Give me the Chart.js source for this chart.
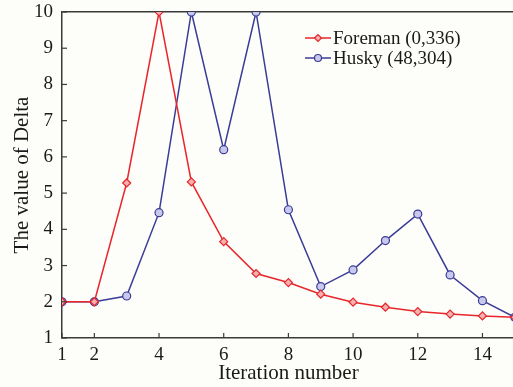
<!DOCTYPE html>
<html>
<head>
<meta charset="utf-8">
<script src="https://cdn.jsdelivr.net/npm/chart.js@4/dist/chart.umd.min.js"></script>
<style>
  html, body { margin: 0; padding: 0; background: #fdfdf9; overflow: hidden; }
  #wrap { width: 513px; height: 387px; overflow: hidden; }
  canvas { display: block; }
</style>
</head>
<body>
<div id="wrap"><canvas id="deltaChart" width="520" height="387"></canvas></div>
<script>
"use strict";
// donnees
const iterations = [1, 2, 3, 4, 5, 6, 7, 8, 9, 10, 11, 12, 13, 14, 15];
const foreman = [2.0, 2.0, 5.28, 10, 5.31, 3.66, 2.78, 2.53, 2.21, 1.99, 1.85, 1.73, 1.66, 1.61, 1.57];
const husky = [2.0, 2.0, 2.16, 4.46, 10, 6.2, 10, 4.54, 2.42, 2.88, 3.69, 4.42, 2.74, 2.03, 1.57];
const xTickValues = [1, 2, 4, 6, 8, 10, 12, 14];
const yTickValues = [1, 2, 3, 4, 5, 6, 7, 8, 9, 10];
const seriesNames = ["Foreman (0,336)", "Husky (48,304)"];

const axisColor = "#3a3a3a";
const serif = "'Liberation Serif', 'DejaVu Serif', serif";

const toPoints = (vals) => vals.map((v, i) => ({ x: iterations[i], y: v }));

// petits traits de graduation vers l'interieur
const innerTicks = {
  id: "innerTicks",
  afterDraw(chart) {
    const ctx = chart.ctx;
    const a = chart.chartArea;
    const xs = chart.scales.x;
    const ys = chart.scales.y;
    ctx.save();
    ctx.strokeStyle = axisColor;
    ctx.lineWidth = 1.2;
    xs.ticks.forEach((t) => {
      const px = xs.getPixelForValue(t.value);
      ctx.beginPath();
      ctx.moveTo(px, a.bottom);
      ctx.lineTo(px, a.bottom - 5);
      ctx.stroke();
    });
    ys.ticks.forEach((t) => {
      const py = ys.getPixelForValue(t.value);
      ctx.beginPath();
      ctx.moveTo(a.left, py);
      ctx.lineTo(a.left + 5, py);
      ctx.stroke();
    });
    ctx.restore();
  }
};

// legende dans le cadre, trait + marqueur
const legendBox = {
  id: "legendBox",
  afterDatasetsDraw(chart) {
    const ctx = chart.ctx;
    const a = chart.chartArea;
    ctx.save();
    chart.data.datasets.forEach((ds, i) => {
      const y = a.top + 26 + i * 20;
      const x0 = a.left + 243;
      ctx.strokeStyle = ds.borderColor;
      ctx.lineWidth = 1.5;
      ctx.beginPath();
      ctx.moveTo(x0, y);
      ctx.lineTo(x0 + 26, y);
      ctx.stroke();
      ctx.fillStyle = ds.pointBackgroundColor;
      ctx.strokeStyle = ds.borderColor;
      ctx.lineWidth = 1.2;
      Chart.helpers.drawPoint(ctx, { pointStyle: ds.pointStyle, radius: 3.5, borderWidth: 1.2, rotation: 0 }, x0 + 13, y);
      ctx.fillStyle = "#1a1a1a";
      ctx.font = "19px " + serif;
      ctx.textBaseline = "middle";
      ctx.fillText(ds.label, x0 + 28, y + 1);
    });
    ctx.restore();
  }
};

const ctx = document.getElementById("deltaChart").getContext("2d");
new Chart(ctx, {
  type: "line",
  data: {
    datasets: [
      {
        label: seriesNames[0],
        data: toPoints(foreman),
        borderColor: "#e8262b",
        backgroundColor: "#e8262b",
        pointBackgroundColor: "#f6b0b0",
        pointBorderColor: "#e8262b",
        pointStyle: "rectRot",
        pointRadius: 4,
        pointBorderWidth: 1.2,
        borderWidth: 1.5,
        tension: 0
      },
      {
        label: seriesNames[1],
        data: toPoints(husky),
        borderColor: "#3b3b98",
        backgroundColor: "#3b3b98",
        pointBackgroundColor: "#c8c8ec",
        pointBorderColor: "#3b3b98",
        pointStyle: "circle",
        pointRadius: 4,
        pointBorderWidth: 1.2,
        borderWidth: 1.5,
        tension: 0
      }
    ]
  },
  options: {
    responsive: false,
    animation: false,
    devicePixelRatio: 1,
    layout: { padding: { top: 12, right: 0, left: 0, bottom: 0 } },
    plugins: {
      legend: { display: false },
      tooltip: { enabled: false }
    },
    scales: {
      x: {
        type: "linear",
        min: 1,
        max: 15,
        afterBuildTicks: (s) => { s.ticks = xTickValues.map((v) => ({ value: v })); },
        afterFit: (s) => { s.height = 49; },
        grid: { display: false, drawTicks: false },
        border: { display: true, color: axisColor, width: 1.5 },
        ticks: { color: "#1a1a1a", padding: 6, maxRotation: 0, font: { family: serif, size: 19 } },
        title: { display: true, text: "Iteration number", color: "#1a1a1a", padding: { top: 0, bottom: 3 }, font: { family: serif, size: 21, lineHeight: 1 } }
      },
      y: {
        min: 1,
        max: 10,
        afterBuildTicks: (s) => { s.ticks = yTickValues.map((v) => ({ value: v })); },
        afterFit: (s) => { s.width = 62; },
        grid: {
          drawTicks: false,
          color: (c) => (c.tick && c.tick.value === 10 ? axisColor : "rgba(0,0,0,0)"),
          lineWidth: 1.5
        },
        border: { display: true, color: axisColor, width: 1.5 },
        ticks: { color: "#1a1a1a", padding: 9, font: { family: serif, size: 19, lineHeight: 0.2 } },
        title: { display: true, text: "The value of Delta", color: "#1a1a1a", padding: { top: 12, bottom: 0 }, font: { family: serif, size: 21, lineHeight: 1 } }
      }
    }
  },
  plugins: [innerTicks, legendBox]
});
</script>
</body>
</html>
